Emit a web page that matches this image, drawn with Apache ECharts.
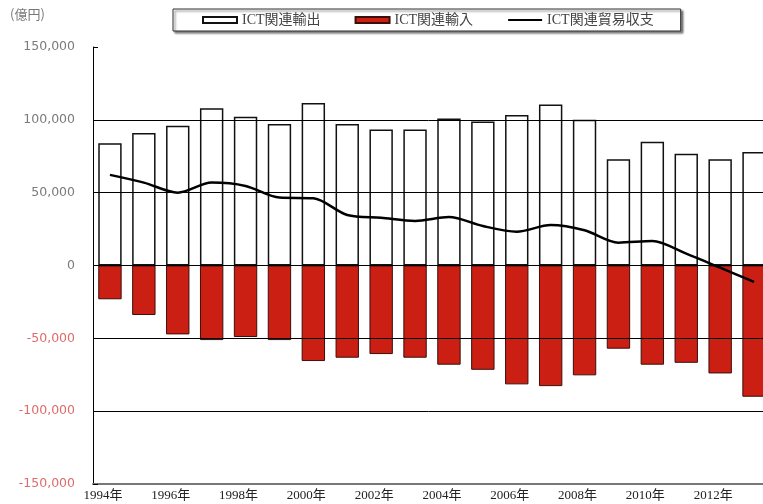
<!DOCTYPE html>
<html><head><meta charset="utf-8">
<script src="https://cdn.jsdelivr.net/npm/echarts@6/dist/echarts.min.js"></script>
<style>html,body{margin:0;padding:0;background:#fff;}#c{width:763px;height:504px;}</style>
</head><body><div id="c"></div>
<script>
const years = ['1994年','1995年','1996年','1997年','1998年','1999年','2000年','2001年','2002年','2003年','2004年','2005年','2006年','2007年','2008年','2009年','2010年','2011年','2012年','2013年'];
const exportsIct = [84000, 91000, 96000, 108000, 102200, 97200, 111600, 97200, 93300, 93300, 100900, 98800, 103400, 110500, 100000, 73000, 85000, 76800, 73000, 78000];
const importsIct = [-23200, -34000, -47300, -51200, -49100, -51200, -65600, -63300, -60800, -63300, -68100, -71600, -81600, -82800, -75400, -57100, -68100, -66800, -74100, -90100];
const balanceIct = [62200, 56900, 50000, 56900, 54600, 46600, 46100, 34700, 32800, 30600, 33300, 27100, 23200, 27800, 24200, 15700, 16800, 8100, -1500, -11300];
const gridValues = [100000, 50000, 0, -50000, -100000];
const names = ['ICT関連輸出','ICT関連輸入','ICT関連貿易収支'];

const chart = echarts.init(document.getElementById('c'));
const serif = '"Liberation Serif","Noto Sans CJK JP",serif';
chart.setOption({
  animation: false,
  backgroundColor: '#fff',
  graphic: [{type:'text', left: 10, top: 8, style:{text:'(億円)', fill:'#777', font:'13px "Noto Sans CJK JP", sans-serif'}}],
  legend: {
    data: [
      {name: names[0], icon: 'rect'},
      {name: names[1], icon: 'rect'},
      {name: names[2], itemStyle: {color: 'rgba(0,0,0,0)', borderWidth: 0}}
    ],
    left: 173, top: 9,
    itemWidth: 34, itemHeight: 6, itemGap: 34,
    padding: [4, 27, 4, 29],
    borderColor: '#333', borderWidth: 1,
    backgroundColor: '#fff',
    shadowColor: 'rgba(0,0,0,0.5)', shadowOffsetX: 2, shadowOffsetY: 2, shadowBlur: 2,
    textStyle: {fontFamily: serif, fontSize: 14, color: '#444'}
  },
  grid: {left: 93, width: 678, top: 47, bottom: 20, containLabel: false, outerBoundsMode: 'none'},
  xAxis: {
    type: 'category', data: years,
    axisLine: {onZero: false, lineStyle: {color: '#777', width: 2}},
    axisTick: {show: false},
    axisLabel: {interval: 1, margin: 5, padding: [0, 14, 0, 0], color: '#222', fontFamily: serif, fontSize: 13}
  },
  yAxis: {
    type: 'value', min: -150000, max: 150000, interval: 50000,
    axisLine: {show: true, lineStyle: {color: '#000', width: 1}},
    axisTick: {show: true, inside: true, length: 5, lineStyle: {color: '#000'}},
    splitLine: {show: false},
    axisLabel: {
      margin: 18,
      fontFamily: '"DejaVu Sans", sans-serif', fontSize: 12.5,
      formatter: v => v.toLocaleString('en-US'),
      color: v => (Number(v) < 0 ? '#e06a6a' : '#7a7a7a')
    }
  },
  series: [
    {
      type: 'line', data: [], z: 0, silent: true,
      markLine: {
        silent: true, symbol: 'none', animation: false,
        label: {show: false},
        lineStyle: {color: '#000', width: 1, type: 'solid'},
        data: gridValues.map(v => ({yAxis: v}))
      }
    },
    {
      name: names[0], type: 'bar', data: exportsIct, z: 2,
      barWidth: '69%', barGap: '-100%',
      itemStyle: {color: '#fff', borderColor: '#111', borderWidth: 1.5}
    },
    {
      name: names[1], type: 'bar', data: importsIct, z: 2,
      barWidth: '69%', barGap: '-100%',
      itemStyle: {color: '#cc1f14', borderColor: '#3a0f0a', borderWidth: 1}
    },
    {
      name: names[2], type: 'line', data: balanceIct, z: 5,
      smooth: 0.3, symbol: 'none',
      lineStyle: {color: '#000', width: 2.5},
      itemStyle: {color: '#000'}
    }
  ]
});
</script></body></html>
